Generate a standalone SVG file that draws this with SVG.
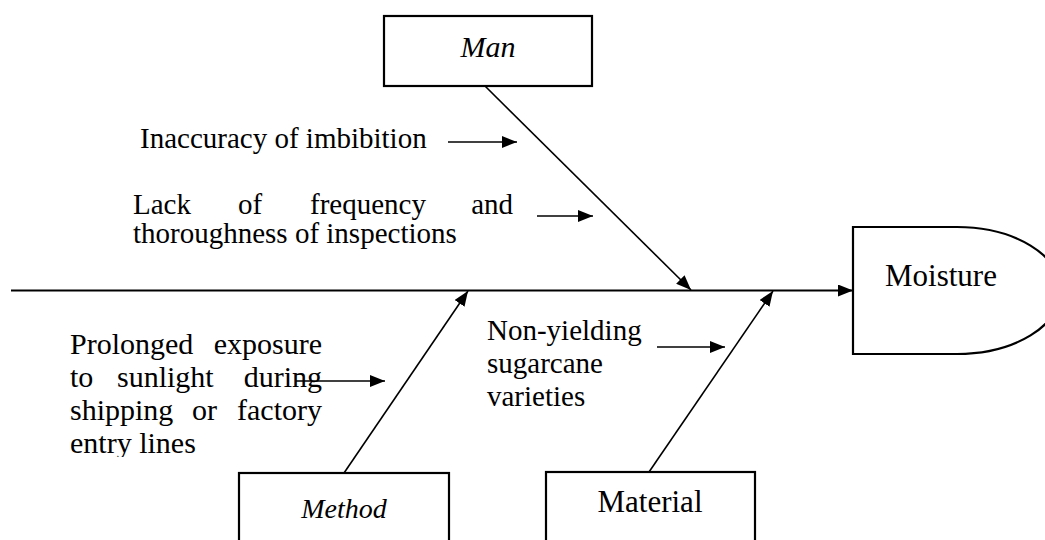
<svg xmlns="http://www.w3.org/2000/svg" width="1045" height="540" viewBox="0 0 1045 540">
<style>
.box{fill:#fff;stroke:#000;stroke-width:2.2}
.ln{stroke:#000;stroke-width:1.6;fill:none}
.spine{stroke:#000;stroke-width:2;fill:none}
.tx{font-family:'Liberation Serif','Times New Roman','DejaVu Serif',serif;fill:#000}
.t{font-size:29px}
.p{font-size:30px}
.it{font-style:italic}
</style>
<defs>
<marker id="ah" markerUnits="userSpaceOnUse" markerWidth="16" markerHeight="12" refX="15" refY="6" orient="auto">
<path d="M0,0 L15,6 L0,12 Z" fill="#000"/>
</marker>
<clipPath id="clipP"><rect x="0" y="300" width="340" height="157"/></clipPath>
</defs>
<rect width="1045" height="540" fill="#fff"/>
<g id="connectors">
<line class="spine" x1="11" y1="290.5" x2="853" y2="290.5" marker-end="url(#ah)"/>
<line class="ln" x1="485" y1="86" x2="691" y2="290" marker-end="url(#ah)"/>
<line class="ln" x1="344" y1="473" x2="468" y2="291" marker-end="url(#ah)"/>
<line class="ln" x1="649" y1="472" x2="773" y2="291" marker-end="url(#ah)"/>
<line class="ln" x1="448" y1="142" x2="517" y2="142" marker-end="url(#ah)"/>
<line class="ln" x1="537" y1="216" x2="593" y2="216" marker-end="url(#ah)"/>
<line class="ln" x1="296" y1="381" x2="385" y2="381" marker-end="url(#ah)"/>
<line class="ln" x1="657" y1="347" x2="725" y2="347" marker-end="url(#ah)"/>
</g>
<g id="man" font-family="Liberation Serif, serif">
<rect class="box" x="384" y="16" width="208" height="70"/>
<text class="tx p it" x="488" y="57" text-anchor="middle">Man</text>
</g>
<g id="method" font-family="Liberation Serif, serif">
<rect class="box" x="239" y="473" width="210" height="80"/>
<text class="tx it" font-size="28" x="344" y="518" text-anchor="middle">Method</text>
</g>
<g id="material" font-family="Liberation Serif, serif">
<rect class="box" x="546" y="472" width="209" height="80"/>
<text class="tx" font-size="31" x="650" y="512" text-anchor="middle">Material</text>
</g>
<g id="moisture" font-family="Liberation Serif, serif">
<path class="box" d="M853,227 L957,227 A104,63.5 0 0 1 957,354 L853,354 Z"/>
<text class="tx" font-size="31" x="885" y="286">Moisture</text>
</g>
<g id="cause-inaccuracy" font-family="Liberation Serif, serif">
<text class="tx t" x="140" y="148">Inaccuracy of imbibition</text>
</g>
<g id="cause-lack" font-family="Liberation Serif, serif">
<text class="tx t" y="214"><tspan x="133">Lack</tspan><tspan x="238">of</tspan><tspan x="310">frequency</tspan><tspan x="513" text-anchor="end">and</tspan></text>
<text class="tx t" x="133" y="243">thoroughness of inspections</text>
</g>
<g id="cause-prolonged" clip-path="url(#clipP)" font-family="Liberation Serif, serif">
<text class="tx p" y="354"><tspan x="70">Prolonged</tspan><tspan x="322" text-anchor="end">exposure</tspan></text>
<text class="tx p" y="387"><tspan x="70">to</tspan><tspan x="117">sunlight</tspan><tspan x="322" text-anchor="end">during</tspan></text>
<text class="tx p" y="420"><tspan x="70">shipping</tspan><tspan x="192">or</tspan><tspan x="322" text-anchor="end">factory</tspan></text>
<text class="tx p" x="70" y="453">entry lines</text>
</g>
<g id="cause-nonyielding" font-family="Liberation Serif, serif">
<text class="tx t" x="487" y="340">Non-yielding</text>
<text class="tx t" x="487" y="373">sugarcane</text>
<text class="tx t" x="487" y="406">varieties</text>
</g>
</svg>
